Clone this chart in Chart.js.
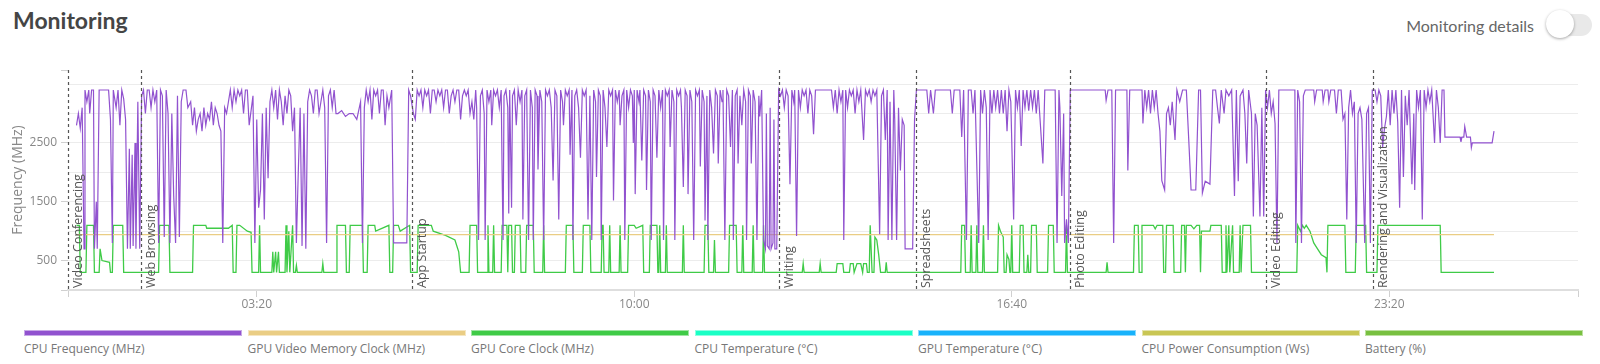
<!DOCTYPE html>
<html>
<head>
<meta charset="utf-8">
<script src="https://cdn.jsdelivr.net/npm/chart.js@4.4.1/dist/chart.umd.min.js"></script>
<style>
  html, body { margin: 0; padding: 0; background: #fff; }
  body { width: 1600px; height: 364px; position: relative; overflow: hidden; font-family: "Open Sans", sans-serif; }
  .title { position: absolute; left: 13px; top: 6px; font: bold 23px/28px Lato, sans-serif; color: #454545; }
  .details { position: absolute; right: 66px; top: 16px; font: 16px/20px Lato, sans-serif; color: #666; white-space: nowrap; }
  .switch { position: absolute; left: 1546px; top: 14px; width: 46px; height: 22px; border-radius: 11px; background: #e9e9e9; }
  .knob { position: absolute; left: 1546px; top: 10px; width: 28px; height: 28px; border-radius: 50%; background: #fff; box-shadow: 0 1px 3px rgba(0,0,0,0.35); }
  .wrap { position: absolute; left: 0; top: 0; width: 1600px; height: 320px; }
  .legend { position: absolute; left: 24px; top: 330px; display: flex; }
  .legend .item { width: 223.5px; }
  .legend .box { width: 218px; height: 6px; box-sizing: border-box; border: 1px solid rgba(255,255,255,0.5); }
  .legend .lbl { margin-top: 5px; font: 12px/16px "Open Sans", sans-serif; color: #777; white-space: nowrap; }
</style>
</head>
<body>
<div class="title">Monitoring</div>
<div class="details">Monitoring details</div>
<div class="switch"></div>
<div class="knob"></div>
<div class="wrap"><canvas id="monitorChart"></canvas></div>
<div class="legend" id="legend"></div>
<script>
// x in seconds, y in MHz
const xTicks = [0, 200, 600, 1000, 1400, 1600];
const yTicks = [0, 500, 1000, 1500, 2000, 2500, 3000, 3500, 3740];
const yLabels = [500, 1500, 2500];

const markerTimes = [0, 77.5, 364, 753.6, 898.5, 1061.7, 1269, 1383];
const markerLabels = ["Video Conferencing", "Web Browsing", "App Startup", "Writing", "Spreadsheets", "Photo Editing", "Video Editing", "Rendering and Visualization"];

const seriesNames = ["CPU Frequency (MHz)", "GPU Video Memory Clock (MHz)", "GPU Core Clock (MHz)", "CPU Temperature (°C)", "GPU Temperature (°C)", "CPU Power Consumption (Ws)", "Battery (%)"];
const seriesColors = ["#9152cf", "#eacd84", "#3fcb47", "#1affc5", "#18b2fb", "#c9c654", "#78c040"];

const cpuFrequency = [
  [9,2800],[11,3000],[13,2750],[15,3100],[17,700],[18,3400],[20,3200],[22,3400],[23,3000],[25,3400],[27,3400],[28,700],[30,1500],[31,700],[33,3400],[43,3400],[45,2900],[47,800],[48,3400],[51,3100],[53,3400],[55,2800],[57,3400],[59,3250],[61,2900],[63,700],[65,2400],[66,700],[68,2300],[69,750],[71,2500],[72,700],[74,3200],[76,700],
  [78,3300],[80,3400],[82,3000],[84,3400],[86,3400],[88,3100],[90,3400],[92,3200],[94,3400],[96,800],[98,3400],[100,3300],[102,900],[104,3400],[106,3000],[108,800],[110,3000],[112,1600],[114,800],[116,3300],[118,900],[120,3200],[122,3400],[125,3400],[127,3100],[130,3200],[132,2800],[134,3100],[136,2700],[138,2900],[140,3000],[142,2700],[144,3100],[146,2800],[148,3000],[150,2900],[152,3200],[154,2800],[156,3100],[158,3000],[160,2800],[162,2700],[164,800],[166,3100],[168,3000],[170,3200],[172,3400],[174,3100],[176,3400],[178,3200],[180,3400],[182,3300],[184,3400],[186,3000],[188,3400],[190,3400],[192,2800],[196,3300],[198,800],[200,2900],[202,1400],[204,1700],[206,3000],[208,1200],[210,3100],[212,1900],[214,3200],[216,3400],[218,3100],[220,3400],[222,2900],[224,3400],[226,3200],[228,2800],[230,3300],[232,3000],[234,3400],[236,3300],[238,2700],[240,3100],[242,800],[244,2000],[246,3100],[248,750],[250,3000],[252,700],[254,3200],[256,3400],[258,3300],[260,3000],[262,3400],[264,3400],[266,3000],[268,3200],[270,3400],[272,3100],[274,800],[276,3300],[278,3400],[280,3100],[282,3400],[284,3000],[286,3000],[290,3050],[294,2950],[298,3000],[302,3000],[306,2900],[310,3200],[312,800],[314,3100],[316,3400],[318,3200],[320,3400],[322,2900],[324,3400],[326,3300],[328,3400],[330,3000],[332,3400],[334,3400],[336,2800],[338,3300],[340,3100],[343,3400],[345,800],[348,800],[352,800],[356,800],[359,800],[361,3400],[363,3300],
  [366,3000],[368,2900],[370,3400],[372,3300],[374,3400],[376,3100],[378,3400],[380,3300],[382,3400],[384,3000],[386,3400],[388,3400],[390,3200],[392,3400],[394,3300],[396,3400],[398,3100],[400,3400],[402,3400],[404,3000],[406,3300],[408,3400],[410,3200],[412,3400],[414,3400],[416,2900],[418,3300],[420,3400],[422,3300],[424,3400],[426,3000],[428,3200],[430,2900],[432,3400],[433,3100],
  [435,850],[437,3300],[439,3400],[441,3000],[442,850],[444,3400],[446,3200],[448,3400],[449,2800],[451,3400],[453,3300],[455,3400],[457,3100],[459,3400],[460,2000],[461,850],[462,3300],[464,3400],[466,3100],[467,1300],[468,3400],[470,1400],[471,3300],[473,3400],[475,2800],[477,3400],[479,3200],[481,3400],[482,1200],[484,3300],[486,3400],[488,850],[490,3400],[492,3100],[493,850],[495,3400],[497,3300],[498,2050],[500,3400],[502,3200],[504,850],[506,3400],[508,3300],[510,3400],[512,3100],[514,1860],[516,3400],[518,3300],[520,1200],[522,3400],[524,3200],[525,2800],[527,3400],[529,3300],[531,3400],[532,2300],[534,3400],[535,850],[537,3300],[539,3400],[541,3100],[543,2250],[545,3400],[547,3300],[549,3400],[551,1200],[553,3300],[555,850],[557,3400],[559,3200],[560,1920],[562,3400],[564,3300],[565,850],[567,3400],[569,3100],[571,2430],[573,3400],[575,3300],[577,3400],[578,1520],[580,3400],[582,3200],[584,3400],[585,2800],[587,3300],[589,3400],[590,850],[592,3400],[594,3100],[596,3400],[598,3300],[599,2500],[600,3400],[601,1630],[603,3400],[605,3200],[606,3400],[608,2200],[610,3400],[612,3300],[613,1700],[615,3400],[617,3200],[618,850],[620,3400],[622,3300],[624,2250],[626,3400],[628,3100],[630,3400],[631,850],[633,3400],[635,3300],[637,3400],[638,2430],[640,3400],[642,3200],[643,850],[645,3400],[647,3300],[649,3400],[650,3100],[652,1750],[654,3400],[656,3300],[657,1630],[659,3400],[661,3200],[663,850],[665,3400],[667,3300],[669,3400],[670,2100],[672,3400],[674,3200],[675,1180],[677,3300],[678,850],[680,3400],[682,3100],[684,2320],[686,3400],[688,3300],[689,2150],[691,3400],[693,3200],[694,3400],[696,850],[698,3400],[700,3300],[702,2430],[704,3400],[705,850],[707,3300],[709,3400],[710,2150],[712,3300],[714,2800],[716,3400],[718,3200],[719,850],[721,3400],[723,3300],[724,2150],[726,3400],[728,3200],[730,850],[732,3300],[733,2950],[735,3400],[737,850],[739,700],[740,3000],[741,750],[743,700],[744,3100],[745,700],[747,800],[748,2900],[749,700],[751,700],[753,3400],
  [755,3300],[757,3400],[759,3100],[761,3400],[763,3300],[765,1800],[767,3400],[769,3200],[770,3400],[772,920],[774,3400],[776,3100],[778,3400],[780,3300],[782,3400],[784,3000],[786,3400],[788,3300],[790,2650],[792,3400],[794,3400],[809,3400],[811,3100],[813,3400],[815,3000],[817,3400],[819,3200],[821,3400],[822,850],[824,3400],[826,3100],[828,3400],[830,3300],[832,3400],[834,3000],[836,3400],[838,3200],[840,3400],[843,2550],[845,3400],[847,3300],[849,3400],[851,3200],[853,3400],[855,3300],[857,3400],[860,950],[862,3300],[864,3400],[866,2550],[868,3400],[869,850],[871,3200],[873,850],[875,3400],[876,2900],[878,850],[880,3100],[882,2030],[884,2900],[886,2800],[887,700],[895,700],[897,2900],
  [899,3400],[910,3400],[912,3000],[914,3400],[917,3000],[919,3400],[935,3400],[937,3000],[939,3400],[945,3400],[947,2600],[949,3400],[952,850],[954,3400],[957,3400],[959,3000],[961,3400],[965,800],[967,3400],[969,3000],[971,3400],[973,3100],[975,850],[977,3400],[979,3000],[981,3400],[983,3100],[985,3400],[987,3000],[989,3400],[991,3000],[993,3400],[995,2700],[997,3400],[999,3200],[1002,1200],[1004,3400],[1006,3100],[1008,3400],[1010,2450],[1012,3400],[1014,3100],[1016,3400],[1018,3050],[1020,3400],[1022,3100],[1024,3400],[1026,3000],[1028,3400],[1033,2150],[1035,3400],[1046,3400],[1048,800],[1050,3400],[1051,3100],[1053,1600],[1055,3000],[1056,800],[1058,1200],[1060,800],[1062,3400],
  [1099,3400],[1100,3220],[1102,3400],[1106,3400],[1108,800],[1110,3400],[1122,3400],[1123,2030],[1125,3400],[1138,3400],[1139,2830],[1141,3400],[1143,3100],[1145,3400],[1147,3000],[1149,3400],[1151,3100],[1153,3400],[1155,3000],[1157,2700],[1159,1860],[1162,1700],[1164,3000],[1166,3100],[1168,2800],[1170,3200],[1173,2550],[1175,3400],[1178,3200],[1181,3400],[1185,3400],[1188,2400],[1190,1700],[1195,1700],[1198,3400],[1200,3400],[1202,1650],[1205,1850],[1210,1800],[1213,3400],[1216,3400],[1218,3100],[1220,2830],[1222,3400],[1225,3000],[1227,3400],[1230,3300],[1233,3400],[1236,1600],[1238,3400],[1240,1850],[1242,3300],[1245,3400],[1247,3000],[1249,2150],[1251,3400],[1254,3000],[1256,1250],[1258,3000],[1260,2800],[1263,1250],[1265,3100],[1267,1250],[1269,3400],
  [1271,3100],[1273,3400],[1275,3000],[1277,3200],[1279,2830],[1281,800],[1283,3400],[1300,3400],[1301,800],[1303,3400],[1305,3200],[1307,800],[1309,3300],[1311,3400],[1320,3400],[1321,3200],[1323,3400],[1329,3400],[1330,3200],[1332,3400],[1335,3400],[1336,3200],[1338,3400],[1342,3400],[1344,3000],[1346,3400],[1349,3400],[1351,2900],[1353,3000],[1355,1200],[1357,3100],[1359,3400],[1361,3000],[1363,3200],[1365,800],[1367,3000],[1369,3100],[1371,2900],[1374,800],[1376,3000],[1378,3100],[1380,800],[1382,3400],
  [1385,3400],[1387,3200],[1389,3400],[1391,3300],[1393,2430],[1395,2750],[1397,2950],[1399,3400],[1401,2800],[1403,3400],[1405,3000],[1407,3400],[1409,2850],[1411,1400],[1413,3400],[1415,1920],[1417,3300],[1419,2800],[1421,3400],[1424,1800],[1426,3000],[1427,1700],[1429,3400],[1431,3100],[1433,3400],[1435,1200],[1437,3400],[1439,3100],[1441,3400],[1443,3200],[1445,3400],[1448,2500],[1450,3400],[1452,3100],[1454,2500],[1456,3400],[1458,3400],[1459,2600],[1475,2600],[1476,2520],[1477,2600],[1479,2600],[1480,2780],[1482,2600],[1486,2600],[1487,2420],[1488,2500],[1509,2500],[1511,2700]
];

const gpuMemoryClock = [[9,940],[1511,940]];

const gpuCoreClock = [
  [9,1100],[12,1100],[13,300],[19,300],[20,1100],[27,1100],[28,300],[33,300],[34,700],[36,500],[44,470],[45,300],[47,300],[48,1100],[58,1100],[59,300],
  [96,300],[97,1100],[107,1100],[108,300],[132,300],[133,1100],[146,1100],[147,1050],[170,1050],[174,1100],[175,300],[178,300],[179,1100],[182,1100],[190,1000],[194,980],[195,300],[202,300],[203,1100],[204,300],[216,300],[217,650],[218,300],[220,650],[221,300],[223,650],[224,300],[230,300],[231,1100],[232,300],[234,1000],[235,300],[238,1100],[239,300],[241,300],[242,420],[243,300],[269,300],[270,450],[271,300],[284,300],[285,1100],[294,1100],[295,300],[298,300],[299,1100],[312,1100],[313,300],[317,300],[318,1100],[325,1100],[326,1000],[340,1100],[341,300],[344,300],[345,1100],[350,1100],[352,1000],[362,1100],[363,300],
  [370,300],[371,1100],[385,1100],[387,1000],[400,930],[410,850],[414,650],[416,300],[425,300],[426,1100],[433,1100],[434,300],
  [444,300],[445,1100],[446,300],[450,300],[451,1100],[452,300],[459,300],[460,1100],[465,1100],[466,300],[467,1100],[470,1100],[471,300],[473,300],[474,1100],[479,1100],[480,300],[485,300],[486,1100],[493,1100],[494,300],[503,300],[504,1100],[505,300],[527,300],[528,1100],[535,1100],[536,300],[545,300],[546,1100],[553,1100],[554,300],[565,300],[566,1100],[567,1100],[568,300],[573,300],[574,1100],[575,300],[584,300],[585,1100],[586,300],[593,300],[594,1100],[600,1100],[602,1050],[609,1100],[610,300],[616,300],[617,1100],[624,1100],[625,300],[626,300],[627,1100],[628,300],[633,300],[634,1100],[635,300],[651,300],[652,1100],[653,300],[674,300],[675,1100],[678,1100],[679,300],[684,300],[685,850],[686,300],[700,300],[701,1100],[708,1100],[709,300],[714,300],[715,1100],[716,300],[725,300],[726,1100],[727,300],[736,300],[737,1100],[738,300],
  [778,300],[779,450],[780,300],[796,300],[797,450],[798,300],[814,300],[815,450],[821,450],[822,300],[828,300],[829,450],[832,450],[833,300],[836,450],[840,450],[842,300],[843,450],[846,450],[847,300],[849,300],[850,1100],[852,300],[854,300],[855,900],[857,850],[859,600],[861,300],
  [866,300],[867,470],[868,300],[946,300],[947,1100],[950,1100],[951,300],[956,300],[957,1100],[958,300],[962,300],[963,1100],[964,300],[969,300],[970,1100],[971,300],[985,300],[986,1100],[988,1000],[991,900],[992,300],[994,300],[995,600],[997,520],[998,300],[999,300],[1000,1100],[1001,300],[1008,300],[1009,1100],[1012,1100],[1013,300],[1016,300],[1017,600],[1018,300],[1020,300],[1021,1100],[1026,1100],[1027,300],[1038,300],[1039,1100],[1044,1100],[1045,300],[1057,300],[1058,1100],[1059,300],
  [1100,300],[1101,470],[1102,300],[1129,300],[1130,1100],[1134,1100],[1135,300],[1137,300],[1138,1100],[1150,1100],[1152,1040],[1154,1100],[1160,1100],[1161,300],[1163,300],[1164,1100],[1171,1100],[1172,300],[1179,300],[1180,1100],[1183,1100],[1184,300],[1185,1100],[1190,1100],[1193,1040],[1196,1100],[1199,1100],[1200,300],[1201,1000],[1210,1000],[1211,1100],[1222,1100],[1223,300],[1226,300],[1227,1100],[1228,300],[1230,1100],[1231,300],[1234,1100],[1235,300],[1241,300],[1242,1100],[1243,300],[1245,1100],[1253,1100],[1254,300],
  [1302,300],[1303,1100],[1306,1000],[1308,1100],[1310,1050],[1312,1100],[1316,1000],[1320,800],[1324,700],[1328,600],[1333,550],[1334,300],[1335,1100],[1353,1100],[1354,300],[1364,300],[1365,1100],[1375,1100],[1376,300],[1387,300],[1388,1100],[1454,1100],[1455,300],[1511,300]
];

const toPoints = (pairs) => pairs.map(([x, y]) => ({ x, y }));
const seriesData = [cpuFrequency, gpuMemoryClock, gpuCoreClock, [], [], [], []];

function mmss(v) {
  const m = Math.floor(v / 60), s = Math.round(v % 60);
  return String(m).padStart(2, "0") + ":" + String(s).padStart(2, "0");
}

// dashed scenario markers with rotated labels
const markers = {
  id: "markers",
  afterDatasetsDraw(chart) {
    const { ctx, chartArea, scales } = chart;
    ctx.save();
    markerTimes.forEach((t, i) => {
      const px = Math.round(scales.x.getPixelForValue(t)) + 0.5;
      ctx.setLineDash([3, 3]);
      ctx.strokeStyle = "#555";
      ctx.lineWidth = 1.2;
      ctx.beginPath();
      ctx.moveTo(px, chartArea.top);
      ctx.lineTo(px, chartArea.bottom);
      ctx.stroke();
      ctx.save();
      ctx.translate(px + 4, chartArea.bottom - 2);
      ctx.rotate(-Math.PI / 2);
      ctx.font = '12.5px "Open Sans"';
      ctx.fillStyle = "#555";
      ctx.textAlign = "left";
      ctx.textBaseline = "top";
      ctx.fillText(markerLabels[i], 0, 0);
      ctx.restore();
    });
    ctx.restore();
  }
};

const chart = new Chart(document.getElementById("monitorChart"), {
  type: "line",
  data: {
    datasets: seriesNames.map((name, i) => ({
      label: name,
      data: toPoints(seriesData[i]),
      borderColor: seriesColors[i],
      backgroundColor: seriesColors[i],
      borderWidth: i === 0 ? 1.2 : 1.3,
      pointRadius: 0,
      tension: 0,
      fill: false
    }))
  },
  options: {
    responsive: true,
    maintainAspectRatio: false,
    animation: false,
    layout: { padding: { top: 70, right: 22, left: 0, bottom: 0 } },
    plugins: { legend: { display: false }, tooltip: { enabled: false } },
    scales: {
      x: {
        type: "linear",
        min: 0,
        max: 1600,
        afterBuildTicks: (s) => { s.ticks = xTicks.map((v) => ({ value: v })); },
        afterFit: (s) => { s.height = 30; },
        ticks: {
          padding: 0,
          color: "#888",
          font: { family: "Open Sans", size: 12 },
          maxRotation: 0,
          autoSkip: false,
          callback: (v) => (v === 0 || v === 1600 ? "" : mmss(v))
        },
        grid: { drawOnChartArea: false, tickLength: 7, tickColor: "#d0d0d0" },
        border: { color: "#dedede", width: 2 }
      },
      y: {
        min: 0,
        max: 3740,
        afterBuildTicks: (s) => { s.ticks = yTicks.map((v) => ({ value: v })); },
        afterFit: (s) => { s.width = 68; },
        title: {
          display: true,
          text: "Frequency (MHz)",
          color: "#888",
          font: { family: "Open Sans", size: 14 },
          padding: { top: 10, bottom: 0 }
        },
        ticks: {
          padding: 4,
          color: "#888",
          font: { family: "Open Sans", size: 12 },
          autoSkip: false,
          callback: (v) => (yLabels.includes(v) ? String(v) : "")
        },
        grid: {
          tickLength: 7,
          color: (c) => (c.tick && c.tick.value === 3740 ? "rgba(0,0,0,0)" : "#ececec"),
          tickColor: (c) => (c.tick && (yLabels.includes(c.tick.value) || c.tick.value === 3740 || c.tick.value === 0) ? "#d0d0d0" : "rgba(0,0,0,0)")
        },
        border: { display: false }
      }
    }
  },
  plugins: [markers]
});

// legend: long colour bars with the label underneath
const legend = document.getElementById("legend");
chart.data.datasets.forEach((ds) => {
  const item = document.createElement("div");
  item.className = "item";
  item.innerHTML = '<div class="box" style="background:' + ds.borderColor + '"></div><div class="lbl">' + ds.label + "</div>";
  legend.appendChild(item);
});
</script>
</body>
</html>
